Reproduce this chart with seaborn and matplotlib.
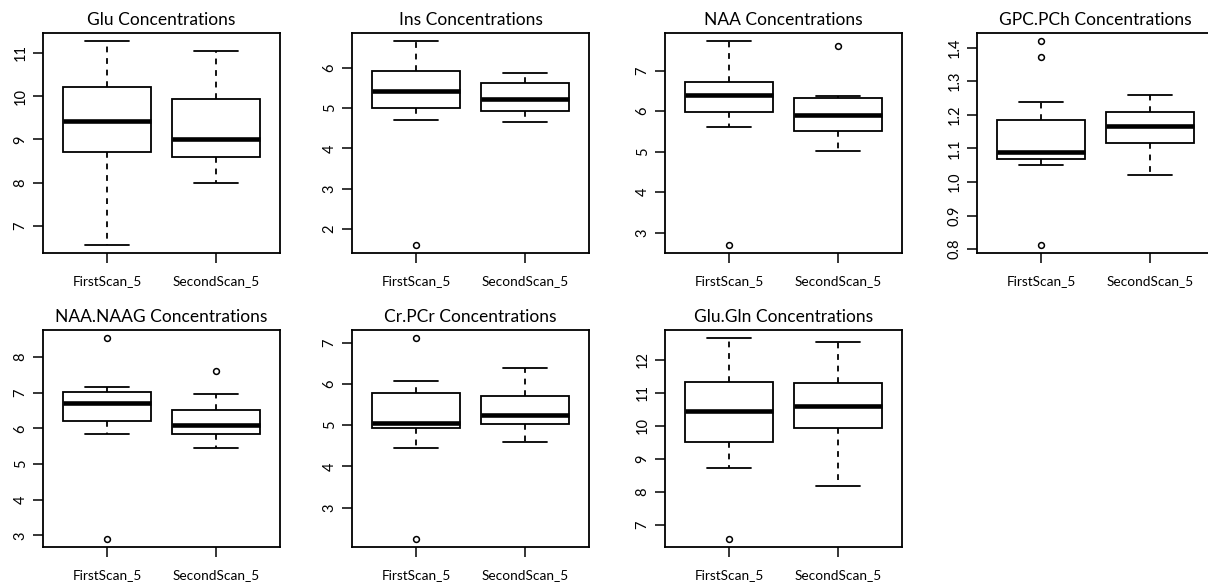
import numpy as np
import pandas as pd
import matplotlib
matplotlib.use("Agg")
import matplotlib.pyplot as plt
import seaborn as sns
from matplotlib.ticker import MultipleLocator, FormatStrFormatter

sns.set_style("white")
plt.rcParams['font.family'] = ['Lato', 'DejaVu Sans']

scans = ["FirstScan_5", "SecondScan_5"]
metrics = ["Glu", "Ins", "NAA", "GPC.PCh", "NAA.NAAG", "Cr.PCr", "Glu.Gln"]

glu_first = [6.56, 7.80, 8.40, 8.71, 9.05, 9.25, 9.42, 9.70, 10.00, 10.22, 10.60, 11.00, 11.27]
glu_second = [7.99, 8.30, 8.45, 8.59, 8.75, 8.90, 9.01, 9.30, 9.60, 9.93, 10.30, 10.70, 11.05]
ins_first = [1.61, 4.70, 4.85, 5.00, 5.15, 5.30, 5.42, 5.60, 5.80, 5.92, 6.15, 6.40, 6.66]
ins_second = [4.66, 4.75, 4.85, 4.94, 5.05, 5.15, 5.22, 5.35, 5.50, 5.63, 5.70, 5.80, 5.87]
naa_first = [2.70, 5.62, 5.80, 5.98, 6.15, 6.30, 6.40, 6.50, 6.60, 6.71, 7.00, 7.40, 7.73]
naa_second = [5.02, 5.20, 5.40, 5.51, 5.65, 5.80, 5.91, 6.05, 6.20, 6.33, 6.36, 6.38, 7.60]
gpc_first = [0.813, 1.051, 1.060, 1.068, 1.075, 1.082, 1.088, 1.110, 1.150, 1.184, 1.238, 1.371, 1.419]
gpc_second = [1.020, 1.060, 1.090, 1.116, 1.135, 1.150, 1.168, 1.180, 1.195, 1.208, 1.225, 1.245, 1.260]
naag_first = [2.90, 5.85, 6.05, 6.21, 6.40, 6.60, 6.71, 6.85, 6.95, 7.03, 7.10, 7.16, 8.53]
naag_second = [5.46, 5.60, 5.72, 5.83, 5.92, 6.00, 6.10, 6.25, 6.40, 6.51, 6.70, 6.95, 7.61]
cr_first = [2.24, 4.44, 4.75, 4.93, 4.97, 5.00, 5.04, 5.30, 5.55, 5.77, 5.90, 6.06, 7.11]
cr_second = [4.59, 4.80, 4.95, 5.03, 5.10, 5.18, 5.25, 5.40, 5.55, 5.71, 5.95, 6.20, 6.39]
glugln_first = [6.58, 8.72, 9.20, 9.50, 9.90, 10.20, 10.44, 10.70, 11.00, 11.34, 11.70, 12.20, 12.66]
glugln_second = [8.19, 9.00, 9.60, 9.95, 10.20, 10.40, 10.59, 10.80, 11.05, 11.31, 11.70, 12.10, 12.54]

series = {
    "Glu": (glu_first, glu_second),
    "Ins": (ins_first, ins_second),
    "NAA": (naa_first, naa_second),
    "GPC.PCh": (gpc_first, gpc_second),
    "NAA.NAAG": (naag_first, naag_second),
    "Cr.PCr": (cr_first, cr_second),
    "Glu.Gln": (glugln_first, glugln_second),
}
tick_steps = [1, 1, 1, 0.1, 1, 1, 1]

rows = []
for m in metrics:
    for s, vals in zip(scans, series[m]):
        for v in vals:
            rows.append({"metric": m, "scan": s, "value": v})
df = pd.DataFrame(rows)

W, H = 1208, 583
fig = plt.figure(figsize=(W / 100, H / 100), dpi=100)

lefts = [43, 352, 665, 977]
row_tops = [33, 330]
row_bottoms = [253, 547]
aw = 237
lw = 1.3

for i, m in enumerate(metrics):
    r, c = divmod(i, 4)
    x0 = lefts[c]
    top, bot = row_tops[r], row_bottoms[r]
    ax = fig.add_axes([x0 / W, 1 - bot / H, aw / W, (bot - top) / H])
    sub = df[df.metric == m]
    sns.boxplot(
        data=sub, x="scan", y="value", order=scans, ax=ax,
        width=0.8, color="white", linecolor="black", linewidth=lw,
        whis=1.5, fliersize=4,
        boxprops=dict(facecolor="white", edgecolor="black", linewidth=lw),
        medianprops=dict(color="black", linewidth=3.3),
        whiskerprops=dict(color="black", linestyle=(0, (3.2, 3.2)), linewidth=lw),
        capprops=dict(color="black", linewidth=lw),
        flierprops=dict(marker="o", markerfacecolor="none", markeredgecolor="black",
                        markeredgewidth=1.1, markersize=4.2),
    )
    vmin, vmax = sub.value.min(), sub.value.max()
    span = vmax - vmin
    ax.set_ylim(vmin - 0.04 * span, vmax + 0.04 * span)
    ax.set_xlim(-0.587, 1.587)
    ax.yaxis.set_major_locator(MultipleLocator(tick_steps[i]))
    if tick_steps[i] < 1:
        ax.yaxis.set_major_formatter(FormatStrFormatter("%.1f"))
    else:
        ax.yaxis.set_major_formatter(FormatStrFormatter("%d"))
    ax.set_xlabel("")
    ax.set_ylabel("")
    ax.set_title(f"{m} Concentrations", fontsize=12.5, pad=6, color="black")
    for sp in ax.spines.values():
        sp.set_visible(True)
        sp.set_color("black")
        sp.set_linewidth(lw)
    ax.tick_params(axis="both", direction="out", length=7, width=1.1, colors="black",
                   left=True, bottom=True)
    ax.tick_params(axis="x", pad=9, labelsize=9.8)
    ax.tick_params(axis="y", pad=4, labelsize=10.5)
    for lab in ax.get_yticklabels():
        lab.set_rotation(90)
        lab.set_va("center")
    ax.grid(False)

fig.savefig("out.png", dpi=100, facecolor="white")
